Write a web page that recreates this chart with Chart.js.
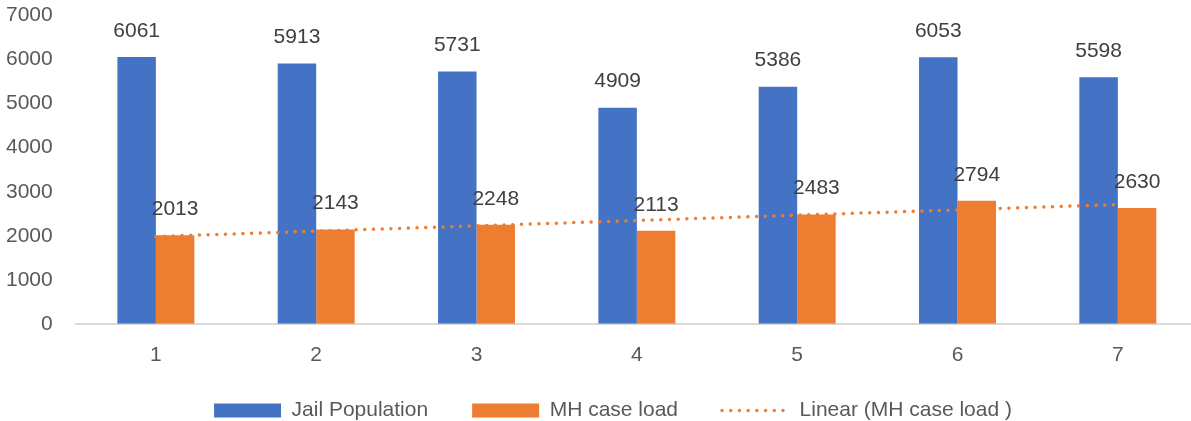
<!DOCTYPE html>
<html>
<head>
<meta charset="utf-8">
<script src="https://cdn.jsdelivr.net/npm/chart.js@4.4.1/dist/chart.umd.min.js"></script>
<style>
  html, body { margin: 0; padding: 0; background: #ffffff; overflow: hidden; width: 1191px; height: 421px; }
  #wrap { position: absolute; left: -17px; top: -20px; width: 1240px; height: 482px; }
</style>
</head>
<body>
<div id="wrap"><canvas id="c" width="1240" height="482"></canvas></div>
<script>
const categories = ['1', '2', '3', '4', '5', '6', '7'];
const jailPopulation = [6061, 5913, 5731, 4909, 5386, 6053, 5598];
const mhCaseLoad = [2013, 2143, 2248, 2113, 2483, 2794, 2630];
// Linear trend endpoints (at category 1 and 7)
const mhTrend = [1983, null, null, null, null, null, 2709];
const yMin = 0, yMax = 7000, yStep = 1000;

const seriesNames = ['Jail Population', 'MH case load', 'Linear (MH case load )'];
const FONT = "'Liberation Sans', Arial, sans-serif";
const TREND_DASH = [0.01, 8.7];

const dataLabels = {
  id: 'dataLabels',
  afterDatasetsDraw(chart) {
    const ctx = chart.ctx;
    ctx.save();
    ctx.font = '21px ' + FONT;
    ctx.fillStyle = '#404040';
    ctx.textAlign = 'center';
    ctx.textBaseline = 'middle';
    chart.data.datasets.forEach((ds, di) => {
      if (ds.type === 'line') return;
      const meta = chart.getDatasetMeta(di);
      meta.data.forEach((bar, i) => {
        ctx.fillText(String(ds.data[i]), bar.x, bar.y - 26);
      });
    });
    ctx.restore();
  }
};

const legendShift = {
  id: 'legendShift',
  afterLayout(chart) {
    const lg = chart.legend;
    if (!lg) return;
    const dx = 22.5, dy = -31;
    lg.left += dx; lg.right += dx;
    lg.top += dy; lg.bottom += dy;
  }
};

new Chart(document.getElementById('c'), {
  type: 'bar',
  data: {
    labels: categories,
    datasets: [
      {
        label: seriesNames[0],
        data: jailPopulation,
        backgroundColor: '#4472C4',
        order: 1,
        categoryPercentage: 0.48,
        barPercentage: 1.0,
        pointStyle: 'rect'
      },
      {
        label: seriesNames[1],
        data: mhCaseLoad,
        backgroundColor: '#ED7D31',
        order: 1,
        categoryPercentage: 0.48,
        barPercentage: 1.0,
        pointStyle: 'rect'
      },
      {
        type: 'line',
        label: seriesNames[2],
        data: mhTrend,
        spanGaps: true,
        borderColor: '#ED7D31',
        backgroundColor: '#ED7D31',
        borderWidth: 3.5,
        borderDash: TREND_DASH,
        borderCapStyle: 'round',
        pointRadius: 0,
        pointHoverRadius: 0,
        pointStyle: 'line',
        tension: 0,
        fill: false,
        order: 0
      }
    ]
  },
  options: {
    responsive: false,
    maintainAspectRatio: false,
    animation: false,
    devicePixelRatio: 1,
    layout: { padding: { left: 0, right: 25, top: 0, bottom: 0 } },
    plugins: {
      tooltip: { enabled: false },
      legend: {
        display: true,
        position: 'bottom',
        labels: {
          font: { family: FONT, size: 21 },
          color: '#595959',
          usePointStyle: true,
          pointStyleWidth: 67,
          boxHeight: 14,
          padding: 44,
          sort: (a, b) => a.datasetIndex - b.datasetIndex,
          generateLabels(chart) {
            const items = Chart.defaults.plugins.legend.labels.generateLabels(chart);
            items.forEach(it => {
              const ds = chart.data.datasets[it.datasetIndex];
              if (ds.type === 'line') {
                it.pointStyle = 'line';
                it.lineDash = TREND_DASH;
                it.lineCap = 'round';
                it.lineWidth = 3.5;
                it.strokeStyle = '#ED7D31';
              } else {
                it.pointStyle = 'rect';
                it.lineWidth = 0;
                it.fillStyle = ds.backgroundColor;
                it.strokeStyle = ds.backgroundColor;
              }
            });
            return items;
          }
        }
      }
    },
    scales: {
      x: {
        grid: { display: false, drawTicks: false },
        border: { display: true, color: '#d9d9d9', width: 2 },
        ticks: { color: '#595959', font: { family: FONT, size: 21 }, padding: 19 }
      },
      y: {
        min: yMin,
        max: yMax,
        grid: { display: false, drawTicks: false },
        border: { display: false },
        ticks: {
          stepSize: yStep,
          color: '#595959',
          font: { family: FONT, size: 21 },
          padding: 23,
          callback: (v) => String(v)
        }
      }
    }
  },
  plugins: [dataLabels, legendShift]
});
</script>
</body>
</html>
